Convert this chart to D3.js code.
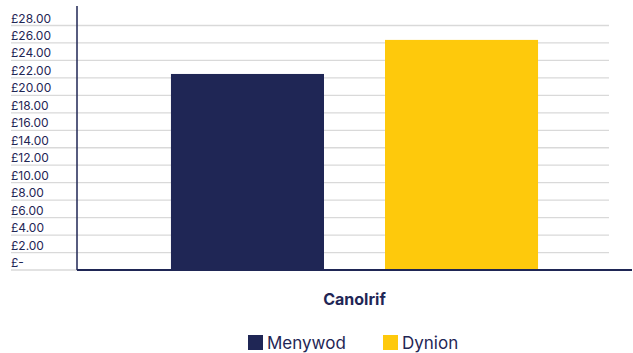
<!DOCTYPE html>
<html>
<head>
<meta charset="UTF-8">
<title>Canolrif</title>
<style>
  body { margin: 0; background: #fff; }
  text { font-family: Inter, "Noto Sans", sans-serif; fill: #1f2655; }
</style>
</head>
<body>
<div class="chart"></div>
<script src="https://d3js.org/d3.v7.min.js"></script>
<script>
var categories = ["Canolrif"];
var series = ["Menywod", "Dynion"];
var values = [22.45, 26.35];
var yTicks = [0, 2, 4, 6, 8, 10, 12, 14, 16, 18, 20, 22, 24, 26, 28];
var colors = ["#1f2655", "#fec90c"];

var w = 633, h = 353;
var plotLeft = 77, plotRight = 632, plotTop = 25.5, plotBottom = 270;

var svg = d3.select("div.chart").append("svg")
  .attr("width", w)
  .attr("height", h);

var y = d3.scaleLinear().domain([0, 28]).range([plotBottom, plotTop]);
var x = d3.scaleBand().domain(series).range([plotLeft, plotRight])
  .paddingInner(0.285).paddingOuter(0.439);

// grid lines + labels (labels sit just above their line)
var grid = svg.append("g");
grid.selectAll("line").data(yTicks).enter().append("line")
  .attr("x1", 11).attr("x2", 609)
  .attr("y1", function(d){ return y(d); })
  .attr("y2", function(d){ return y(d); })
  .attr("stroke", "#d9d9d9").attr("stroke-width", 1.3);

grid.selectAll("text").data(yTicks).enter().append("text")
  .attr("x", 11)
  .attr("y", function(d){ return y(d) - 3; })
  .attr("font-size", 12)
  .text(function(d){ return d === 0 ? "£-" : "£" + d.toFixed(2); });

// bars
svg.append("g").selectAll("rect").data(values).enter().append("rect")
  .attr("x", function(d, i){ return x(series[i]); })
  .attr("y", function(d){ return y(d); })
  .attr("width", x.bandwidth())
  .attr("height", function(d){ return y(0) - y(d); })
  .attr("fill", function(d, i){ return colors[i]; });

// axes
svg.append("line")
  .attr("x1", plotLeft).attr("x2", plotLeft)
  .attr("y1", 6).attr("y2", plotBottom)
  .attr("stroke", "#1f2655").attr("stroke-width", 1.5);
svg.append("line")
  .attr("x1", plotLeft).attr("x2", plotRight)
  .attr("y1", plotBottom).attr("y2", plotBottom)
  .attr("stroke", "#1f2655").attr("stroke-width", 2);

// category label
svg.append("text")
  .attr("x", (plotLeft + plotRight) / 2).attr("y", 305)
  .attr("text-anchor", "middle")
  .attr("font-size", 16).attr("font-weight", "bold")
  .text(categories[0]);

// legend
var legX = [248, 383];
var leg = svg.append("g").selectAll("g").data(series).enter().append("g")
  .attr("transform", function(d, i){ return "translate(" + legX[i] + ",335)"; });
leg.append("rect").attr("width", 15).attr("height", 15)
  .attr("fill", function(d, i){ return colors[i]; });
leg.append("text").attr("x", 19).attr("y", 14)
  .attr("font-size", 17)
  .text(function(d){ return d; });
</script>
</body>
</html>
